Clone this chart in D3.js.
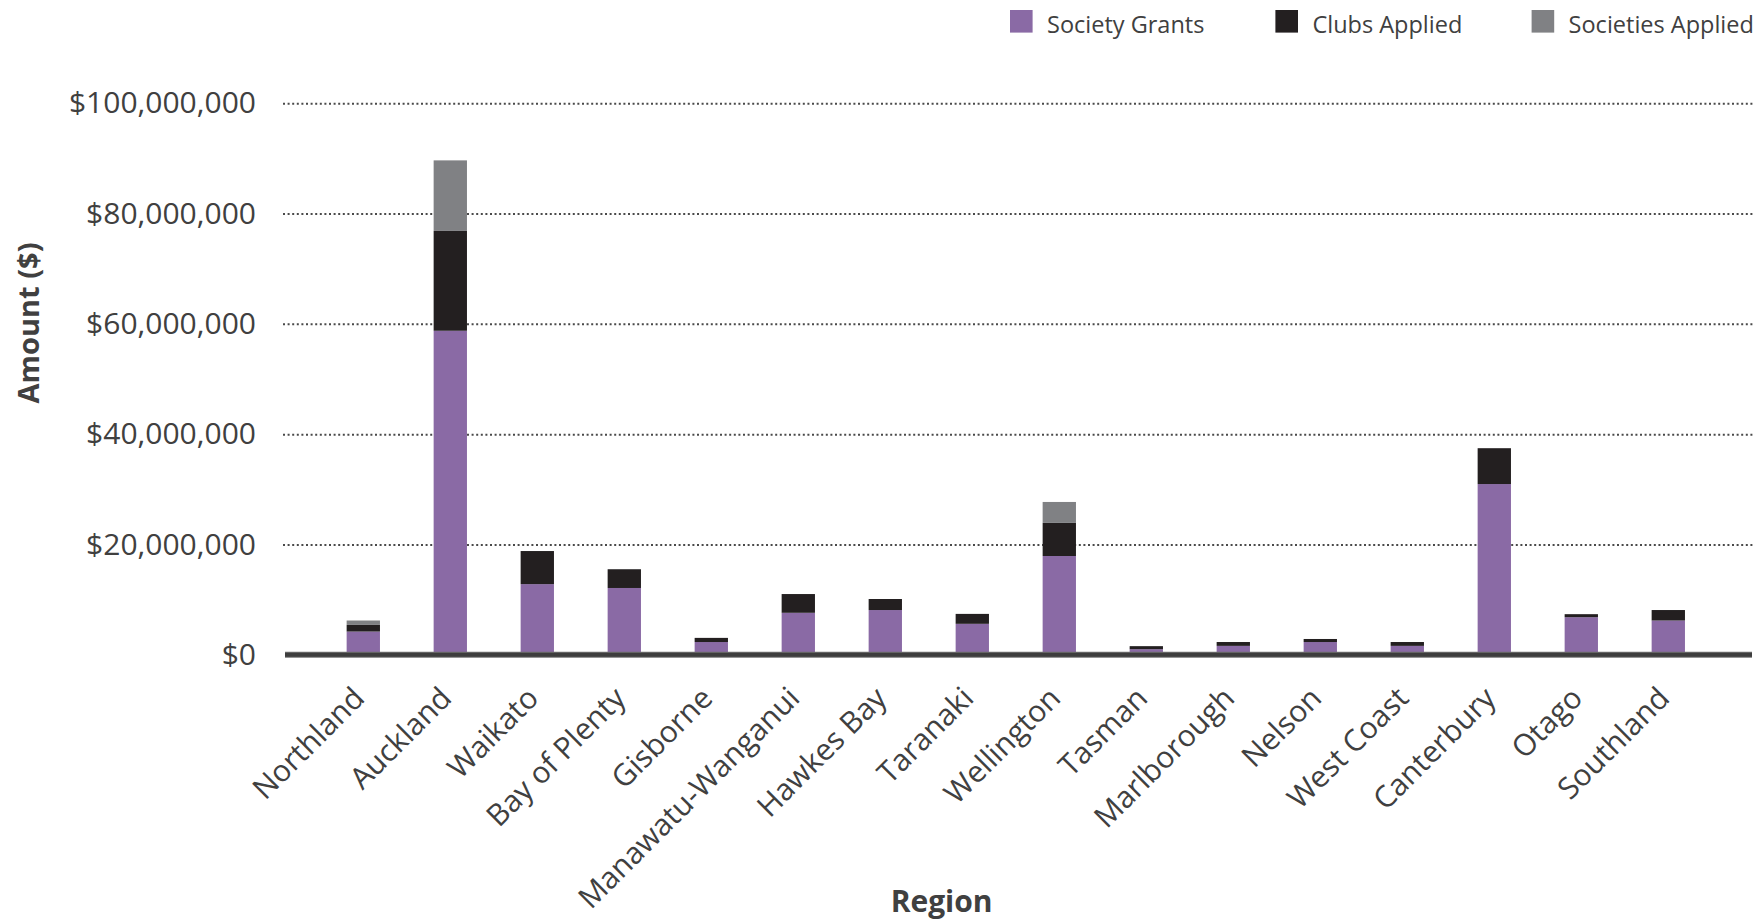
<!DOCTYPE html>
<html>
<head>
<meta charset="utf-8">
<script src="https://cdn.jsdelivr.net/npm/d3@7"></script>
<style>
body { margin: 0; background: #fff; }
text { font-family: "Open Sans", sans-serif; fill: #404040; }
</style>
</head>
<body>
<svg id="chart" width="1762" height="921"></svg>
<script>
var regions = ['Northland', 'Auckland', 'Waikato', 'Bay of Plenty', 'Gisborne', 'Manawatu-Wanganui',
    'Hawkes Bay', 'Taranaki', 'Wellington', 'Tasman', 'Marlborough', 'Nelson', 'West Coast',
    'Canterbury', 'Otago', 'Southland'];

// values in dollars
var societyGrants    = [4.2e6, 58.75e6, 12.8e6, 12.1e6, 2.3e6, 7.6e6, 8.1e6, 5.6e6, 17.9e6, 1.0e6, 1.6e6, 2.3e6, 1.6e6, 30.95e6, 6.8e6, 6.2e6];
var clubsApplied     = [1.2e6, 18.1e6, 6.0e6, 3.4e6, 0.75e6, 3.4e6, 2.0e6, 1.8e6, 6.0e6, 0.55e6, 0.7e6, 0.55e6, 0.7e6, 6.5e6, 0.55e6, 1.9e6];
var societiesApplied = [0.8e6, 12.8e6, 0, 0, 0, 0, 0, 0, 3.8e6, 0, 0, 0, 0, 0, 0, 0];

var seriesNames = ['Society Grants', 'Clubs Applied', 'Societies Applied'];
var seriesColors = ['#8a6aa5', '#231f20', '#808184'];
var yTicks = [0, 20e6, 40e6, 60e6, 80e6, 100e6];

var svg = d3.select('#chart');

// layout
var gridLeft = 283, gridRight = 1755;
var axisLeftX = 285, axisRightX = 1752;
var zeroY = 654.7, topY = 103.3;

var x = d3.scaleBand()
    .domain(regions)
    .range([319.8, 1711.8])
    .paddingInner(0.617)
    .paddingOuter(0.3085);

var y = d3.scaleLinear()
    .domain([0, 100e6])
    .range([zeroY, topY]);

var rows = regions.map(function(r, i){
    return { region: r, sg: societyGrants[i], ca: clubsApplied[i], sa: societiesApplied[i] };
});
var stacked = d3.stack().keys(['sg', 'ca', 'sa'])(rows);

// dotted gridlines
var grid = svg.append('g')
    .attr('transform', 'translate(' + gridLeft + ',0)')
    .call(d3.axisLeft(y).tickValues(yTicks.slice(1)).tickSize(-(gridRight - gridLeft)).tickFormat(''));
grid.select('.domain').remove();
grid.selectAll('line')
    .attr('stroke', '#4a4a4a')
    .attr('stroke-width', 2)
    .attr('stroke-dasharray', '2 2.6');

// y tick labels
var yAxis = svg.append('g')
    .attr('transform', 'translate(256,0)')
    .call(d3.axisLeft(y).tickValues(yTicks).tickSize(0).tickPadding(0).tickFormat(d3.format('$,')));
yAxis.select('.domain').remove();
yAxis.selectAll('text')
    .style('font-size', '30px')
    .attr('fill', '#404040');

// bars
svg.append('g').selectAll('g')
    .data(stacked)
    .enter()
    .append('g')
    .attr('fill', function(d, i){ return seriesColors[i]; })
    .selectAll('rect')
    .data(function(d){ return d; })
    .enter()
    .append('rect')
    .attr('x', function(d){ return x(d.data.region); })
    .attr('y', function(d){ return y(d[1]); })
    .attr('width', x.bandwidth())
    .attr('height', function(d){ return y(d[0]) - y(d[1]); });

// baseline
svg.append('line')
    .attr('x1', axisLeftX).attr('x2', axisRightX)
    .attr('y1', y(0)).attr('y2', y(0))
    .attr('stroke', '#727272').attr('stroke-width', 6);
svg.append('line')
    .attr('x1', axisLeftX).attr('x2', axisRightX)
    .attr('y1', y(0)).attr('y2', y(0))
    .attr('stroke', '#3d3d3d').attr('stroke-width', 4);

// x tick labels, rotated
var xAxis = svg.append('g')
    .attr('transform', 'translate(0,700)')
    .call(d3.axisBottom(x).tickSize(0));
xAxis.select('.domain').remove();
xAxis.selectAll('text')
    .attr('y', 0)
    .attr('dy', 0)
    .attr('transform', 'translate(3,0) rotate(-45)')
    .attr('text-anchor', 'end')
    .attr('fill', '#404040')
    .style('font-size', '30px');

// axis titles
svg.append('text')
    .attr('transform', 'translate(29,323) rotate(-90)')
    .attr('text-anchor', 'middle')
    .attr('dy', '0.35em')
    .style('font-size', '29px')
    .style('font-weight', 'bold')
    .text('Amount ($)');

svg.append('text')
    .attr('x', 941.6)
    .attr('y', 901)
    .attr('text-anchor', 'middle')
    .attr('dy', '0.35em')
    .style('font-size', '30px')
    .style('font-weight', 'bold')
    .text('Region');

// legend
var legendX = [1010, 1275.4, 1531.6];
var legend = svg.append('g').selectAll('g')
    .data(seriesNames)
    .enter()
    .append('g')
    .attr('transform', function(d, i){ return 'translate(' + legendX[i] + ',10)'; });
legend.append('rect')
    .attr('width', 22.6)
    .attr('height', 22.6)
    .attr('fill', function(d, i){ return seriesColors[i]; });
legend.append('text')
    .attr('x', 37)
    .attr('y', 14.5)
    .attr('dy', '0.35em')
    .style('font-size', '23.5px')
    .text(function(d){ return d; });
</script>
</body>
</html>
